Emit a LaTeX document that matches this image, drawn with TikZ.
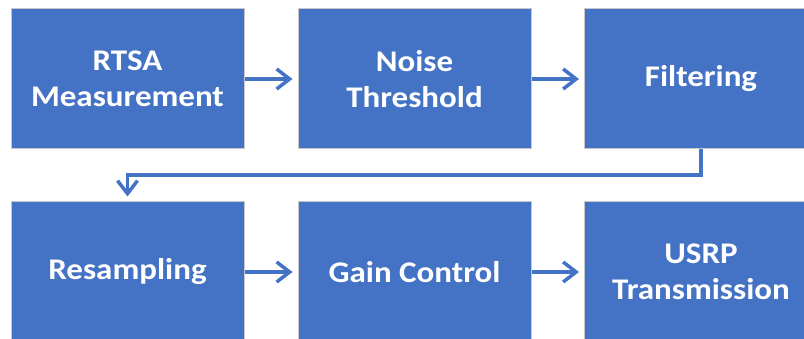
\documentclass[tikz,border=0pt]{standalone}
\usepackage{fontspec}
\setmainfont{Carlito}[FakeStretch=1.1]
\usetikzlibrary{arrows.meta}
\definecolor{boxblue}{HTML}{4472C4}
\definecolor{boxedge}{HTML}{C8C8C8}
\tikzset{
  blk/.style={draw=boxedge, line width=1pt, fill=boxblue, text=white,
    minimum width=233pt, minimum height=140pt, inner sep=0pt, align=center,
    font=\fontsize{30}{36}\selectfont\bfseries},
  flow/.style={draw=boxblue, line width=3.5pt,
    -{Straight Barb[length=13pt,width=20pt,line width=3.5pt]}, shorten >=5pt}
}
\begin{document}
\begin{tikzpicture}[x=1pt,y=-1pt]
\useasboundingbox (0,0) rectangle (804,339);
\clip (0,0) rectangle (804,339);
\node[blk] (a) at (127.5,79) {RTSA\\Measurement};
\node[blk] (b) at (414.5,79) {Noise\\Threshold};
\node[blk] (c) at (701,79) {Filtering};
\node[blk] (d) at (127.5,272) {Resampling};
\node[blk] (e) at (414.5,272) {Gain Control};
\node[blk] (f) at (701,272) {USRP\\Transmission};
\coordinate (bend) at (127.5,175);
\draw[flow] (a) -- (b);
\draw[flow] (b) -- (c);
\draw[flow] (d) -- (e);
\draw[flow] (e) -- (f);
\draw[flow] (c.south) |- (bend) -- (d.north);
\end{tikzpicture}
\end{document}
